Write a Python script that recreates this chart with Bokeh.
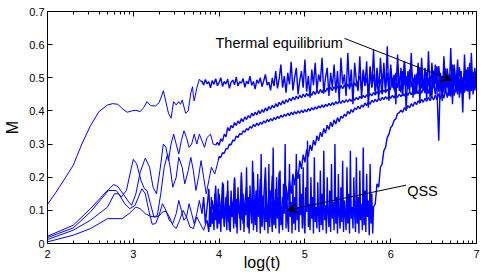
import numpy as np
from bokeh.plotting import figure
from bokeh.models import (Range1d, FixedTicker, LinearAxis, Label, Arrow, VeeHead,
                          CustomLabelingPolicy)
from bokeh.embed import file_html
from bokeh.resources import INLINE

# ---------------- data ----------------
x_ticks = [2, 3, 4, 5, 6, 7]
x_tick_labels = ["2", "3", "4", "5", "6", "7"]
y_ticks = [0, 0.1, 0.2, 0.3, 0.4, 0.5, 0.6, 0.7]
y_tick_labels = ["0", "0.1", "0.2", "0.3", "0.4", "0.5", "0.6", "0.7"]

STEP = 0.02
FINE_STEP = 0.01

# Series A : fastest to thermal equilibrium
a_smooth_x = [2.00, 2.10, 2.20, 2.30, 2.40, 2.50, 2.60, 2.70, 2.76, 2.82, 2.88, 2.93, 2.98, 3.03, 3.08,
              3.12, 3.16, 3.20, 3.26, 3.30, 3.33, 3.35, 3.375, 3.41, 3.44, 3.47, 3.50, 3.53, 3.55, 3.57,
              3.61, 3.64, 3.67, 3.69, 3.70, 3.71, 3.74, 3.77, 3.79]
a_smooth_y = [0.118, 0.155, 0.195, 0.236, 0.300, 0.355, 0.398, 0.418, 0.422, 0.420, 0.405, 0.396, 0.400,
              0.402, 0.398, 0.410, 0.428, 0.416, 0.415, 0.425, 0.445, 0.461, 0.433, 0.393, 0.378, 0.428,
              0.418, 0.428, 0.420, 0.433, 0.393, 0.400, 0.454, 0.473, 0.445, 0.430, 0.469, 0.496, 0.488]
a_noise_start = 3.80
a_noise_y = [
    0.490, 0.478, 0.495, 0.482, 0.488, 0.470, 0.492, 0.480, 0.497, 0.476,
    0.486, 0.500, 0.474, 0.489, 0.481, 0.496, 0.468, 0.487, 0.493, 0.479,
    0.502, 0.475, 0.488, 0.484, 0.498, 0.471, 0.490, 0.482, 0.505, 0.477,
    0.489, 0.466, 0.494, 0.483, 0.500, 0.473, 0.491, 0.510, 0.478, 0.487,
    0.462,
    0.500, 0.475, 0.520, 0.468, 0.497, 0.540, 0.470, 0.505, 0.455, 0.515,
    0.480, 0.548, 0.462, 0.500, 0.530, 0.450, 0.492, 0.520, 0.470, 0.555,
    0.458, 0.505, 0.440, 0.525, 0.478, 0.545, 0.460, 0.510, 0.488, 0.560,
    0.452, 0.500, 0.530, 0.445, 0.515,
    0.470, 0.540, 0.455, 0.520, 0.430, 0.560, 0.480, 0.510, 0.445, 0.575,
    0.465, 0.525, 0.420, 0.545, 0.490, 0.460, 0.565, 0.440, 0.515, 0.475,
    0.550, 0.410, 0.530, 0.470, 0.585, 0.450, 0.505, 0.435, 0.560, 0.480,
    0.525, 0.455, 0.595, 0.430, 0.540, 0.470, 0.510, 0.420, 0.570, 0.460,
    0.530, 0.445, 0.550, 0.400, 0.520, 0.480, 0.575, 0.440, 0.510, 0.465,
    0.545, 0.425, 0.560, 0.470, 0.500, 0.435, 0.580, 0.455, 0.525, 0.470,
    0.540, 0.460, 0.310, 0.515, 0.430, 0.565, 0.475, 0.505, 0.445, 0.590,
    0.420, 0.535, 0.470, 0.555, 0.440, 0.520, 0.395, 0.570, 0.460, 0.510,
    0.435, 0.575, 0.450, 0.530, 0.470]

# Series B : leaves the QSS near log(t)=3.9
b_smooth_x = [2.00, 2.30, 2.50, 2.71, 2.77, 2.82, 2.88, 2.94, 2.98, 3.03, 3.08, 3.14, 3.19, 3.23, 3.27,
              3.31, 3.35, 3.38, 3.41, 3.44, 3.47, 3.50, 3.53, 3.56, 3.59, 3.62, 3.65, 3.68, 3.71, 3.74,
              3.77, 3.80, 3.83, 3.86, 3.90, 3.93, 3.96]
b_smooth_y = [0.022, 0.055, 0.105, 0.163, 0.178, 0.172, 0.150, 0.128, 0.115, 0.150, 0.215, 0.258, 0.230,
              0.170, 0.150, 0.220, 0.300, 0.290, 0.250, 0.300, 0.330, 0.300, 0.270, 0.310, 0.340, 0.320,
              0.290, 0.300, 0.330, 0.300, 0.330, 0.310, 0.290, 0.320, 0.330, 0.300, 0.297]
b_rise_start = 3.98
b_rise_y = [
    0.305, 0.296, 0.316, 0.308, 0.330, 0.322, 0.350, 0.340, 0.356, 0.349,
    0.365, 0.356, 0.370, 0.362, 0.377, 0.368, 0.382, 0.374, 0.386, 0.379,
    0.393, 0.385, 0.396, 0.388, 0.401, 0.392, 0.404, 0.396, 0.409, 0.400,
    0.413, 0.405, 0.417, 0.409, 0.422, 0.413, 0.426, 0.418, 0.431, 0.421,
    0.434, 0.426, 0.438, 0.430, 0.442, 0.433, 0.445, 0.436, 0.448, 0.439,
    0.451, 0.442, 0.453, 0.445, 0.456, 0.447, 0.459, 0.450, 0.462, 0.452,
    0.465, 0.455, 0.467, 0.457, 0.469, 0.459, 0.471, 0.461, 0.473, 0.463,
    0.475, 0.464, 0.477, 0.467, 0.479, 0.468, 0.481, 0.470, 0.483, 0.472,
    0.485, 0.474]
b_band_start = 5.64
b_band_y = [
    0.505, 0.465, 0.525, 0.478, 0.500, 0.455, 0.535, 0.472, 0.510, 0.460,
    0.530, 0.482, 0.495, 0.450, 0.545, 0.470, 0.515, 0.462, 0.528, 0.476,
    0.505, 0.445, 0.540, 0.480, 0.512, 0.466, 0.550, 0.474, 0.498, 0.458,
    0.525, 0.485, 0.505, 0.452, 0.538, 0.470, 0.515, 0.462, 0.530, 0.478,
    0.500, 0.440, 0.545, 0.472, 0.510, 0.465, 0.535, 0.480, 0.505, 0.455,
    0.528, 0.470, 0.512, 0.448, 0.540, 0.476, 0.508, 0.462, 0.532, 0.482,
    0.500, 0.458, 0.525, 0.470, 0.545, 0.465, 0.510, 0.478, 0.520]

# Series C2 : leaves the QSS near log(t)=4.0
c2_smooth_x = [2.00, 2.30, 2.50, 2.71, 2.80, 2.86, 2.92, 2.97, 3.00, 3.04, 3.09, 3.13, 3.16, 3.20, 3.24,
               3.28, 3.32, 3.36, 3.40, 3.43, 3.46, 3.50, 3.53, 3.57, 3.60, 3.64, 3.67, 3.70, 3.73, 3.76,
               3.79, 3.82, 3.85, 3.88, 3.91, 3.95, 3.99]
c2_smooth_y = [0.018, 0.047, 0.095, 0.160, 0.160, 0.140, 0.160, 0.220, 0.254, 0.240, 0.190, 0.165, 0.160,
               0.120, 0.080, 0.085, 0.150, 0.230, 0.270, 0.230, 0.170, 0.200, 0.260, 0.230, 0.180, 0.220,
               0.260, 0.220, 0.160, 0.200, 0.250, 0.200, 0.150, 0.190, 0.230, 0.210, 0.250]
c2_rise_start = 4.00
c2_rise_y = [
    0.262, 0.260, 0.274, 0.272, 0.286, 0.286, 0.300, 0.298, 0.312, 0.310,
    0.324, 0.320, 0.332, 0.328, 0.340, 0.336, 0.347, 0.342, 0.353, 0.348,
    0.359, 0.353, 0.363, 0.356, 0.366, 0.360, 0.370, 0.364, 0.374, 0.368,
    0.377, 0.370, 0.380, 0.374, 0.384, 0.377, 0.387, 0.381, 0.390, 0.384,
    0.393, 0.386, 0.396, 0.389, 0.398, 0.391, 0.400, 0.393, 0.402, 0.395,
    0.404, 0.397, 0.407, 0.400, 0.410, 0.403, 0.412, 0.406, 0.415, 0.409,
    0.418, 0.411, 0.420, 0.414, 0.423, 0.416, 0.425, 0.418, 0.428, 0.421,
    0.430, 0.423, 0.432, 0.425, 0.434, 0.427, 0.436, 0.429, 0.439, 0.432,
    0.441, 0.434, 0.444, 0.437, 0.447, 0.440, 0.449, 0.443, 0.452, 0.446,
    0.455, 0.448, 0.458, 0.451, 0.461, 0.454, 0.463, 0.456, 0.465, 0.458,
    0.468]
c2_band_start = 6.02
c2_band_y = [
    0.500, 0.462, 0.515, 0.470, 0.492, 0.455, 0.520, 0.478, 0.505, 0.465,
    0.525, 0.472, 0.498, 0.450, 0.512, 0.480, 0.530, 0.468, 0.495, 0.458,
    0.518, 0.475, 0.505, 0.445, 0.522, 0.482, 0.535, 0.470, 0.500, 0.460,
    0.515, 0.478, 0.528, 0.452, 0.508, 0.485, 0.540, 0.466, 0.498, 0.470,
    0.520, 0.455, 0.510, 0.480, 0.532, 0.462, 0.505, 0.475, 0.515, 0.470]

# Series C : leaves the QSS near log(t)=4.75
c_smooth_x = [2.00, 2.30, 2.50, 2.70, 2.78, 2.83, 2.90, 2.96, 3.02, 3.06, 3.10, 3.14, 3.18, 3.22, 3.26,
              3.30, 3.34, 3.38, 3.42, 3.46, 3.50, 3.53, 3.56, 3.59, 3.62, 3.65, 3.68, 3.71, 3.74, 3.77,
              3.80]
c_smooth_y = [0.012, 0.040, 0.070, 0.110, 0.150, 0.150, 0.120, 0.105, 0.115, 0.140, 0.165, 0.150, 0.100,
              0.058, 0.060, 0.085, 0.120, 0.100, 0.070, 0.060, 0.090, 0.130, 0.100, 0.070, 0.080, 0.120,
              0.090, 0.060, 0.090, 0.130, 0.090]
c_qss_start = 3.82
c_qss_y = [
    0.140, 0.060, 0.110, 0.165, 0.050, 0.130, 0.090, 0.175, 0.045, 0.150,
    0.080, 0.185, 0.055, 0.120, 0.160, 0.040, 0.140, 0.095, 0.195, 0.050,
    0.150, 0.075, 0.205, 0.060, 0.125, 0.170, 0.045, 0.150, 0.090, 0.215,
    0.055, 0.160, 0.080, 0.195, 0.050, 0.135, 0.230, 0.065, 0.150, 0.100,
    0.205, 0.055, 0.165, 0.085, 0.215, 0.070, 0.140]
c_rise_start = 4.76
c_rise_y = [
    0.120, 0.175, 0.130, 0.190, 0.150, 0.210, 0.175, 0.225, 0.195, 0.250,
    0.225, 0.268, 0.245, 0.283, 0.262, 0.297, 0.280, 0.312, 0.296, 0.325,
    0.310, 0.336, 0.322, 0.347, 0.333, 0.357, 0.344, 0.366, 0.352, 0.373,
    0.360, 0.380, 0.367]
c_late_start = 5.42
c_late_y = [
    0.384, 0.378, 0.390, 0.384, 0.399, 0.391, 0.404, 0.396, 0.409, 0.404,
    0.414, 0.406, 0.418, 0.411, 0.424, 0.416, 0.428, 0.420, 0.432, 0.426,
    0.435, 0.428, 0.438, 0.431, 0.441, 0.434, 0.443, 0.436, 0.445, 0.438,
    0.447, 0.439, 0.449, 0.441, 0.451, 0.443, 0.453, 0.445, 0.456, 0.447,
    0.458, 0.449, 0.461, 0.451, 0.464, 0.452, 0.467, 0.453, 0.470, 0.454,
    0.475, 0.452, 0.480, 0.455, 0.488, 0.450, 0.495, 0.458, 0.500, 0.452,
    0.505, 0.460, 0.498, 0.448, 0.510, 0.462, 0.502, 0.455, 0.515, 0.465,
    0.505, 0.450, 0.520, 0.468, 0.508, 0.458, 0.525, 0.470, 0.512, 0.462]

# Series D : stays in the QSS until log(t)=5.8 (QSS sampled every 0.01)
d_smooth_x = [2.00, 2.30, 2.50, 2.70, 2.87, 2.95, 3.03, 3.08, 3.14, 3.20, 3.26, 3.30, 3.34, 3.38, 3.42,
              3.46, 3.50, 3.54, 3.58, 3.62, 3.66, 3.70, 3.74, 3.78, 3.82, 3.86]
d_smooth_y = [0.005, 0.025, 0.045, 0.075, 0.075, 0.090, 0.110, 0.105, 0.090, 0.082, 0.080, 0.083, 0.095,
              0.098, 0.080, 0.055, 0.045, 0.070, 0.100, 0.080, 0.050, 0.045, 0.080, 0.060, 0.040, 0.070]
d_qss_start = 3.88
d_qss_y = [
    0.035, 0.110, 0.050, 0.140, 0.060, 0.095, 0.040, 0.150, 0.070, 0.120,
    0.045, 0.165, 0.060, 0.105, 0.035, 0.130, 0.075, 0.180, 0.050, 0.100,
    0.140, 0.040, 0.190, 0.065, 0.115, 0.035, 0.160, 0.080, 0.125, 0.045,
    0.200, 0.060, 0.135, 0.030, 0.170, 0.090, 0.110, 0.040, 0.215, 0.070,
    0.150, 0.035, 0.120, 0.085, 0.230, 0.050, 0.140, 0.030, 0.175, 0.095,
    0.060, 0.250, 0.040, 0.130, 0.070, 0.160, 0.035, 0.210, 0.085, 0.120,
    0.030, 0.270, 0.055, 0.145, 0.090, 0.040, 0.190, 0.065, 0.115, 0.030,
    0.240, 0.050, 0.160, 0.080, 0.035, 0.290, 0.060, 0.130, 0.045, 0.200,
    0.075, 0.140, 0.030, 0.220, 0.055, 0.110, 0.040, 0.180, 0.090, 0.300,
    0.045, 0.150, 0.065, 0.035, 0.240, 0.080, 0.125, 0.030, 0.190, 0.060,
    0.140, 0.040, 0.270, 0.070, 0.110, 0.035, 0.210, 0.085, 0.150, 0.045,
    0.230, 0.060, 0.030, 0.170, 0.095, 0.310, 0.050, 0.120, 0.040, 0.200,
    0.075, 0.140, 0.030, 0.260, 0.065, 0.110, 0.045, 0.185, 0.080, 0.035,
    0.220, 0.055, 0.150, 0.040, 0.280, 0.070, 0.115, 0.030, 0.200, 0.090,
    0.050, 0.160, 0.035, 0.240, 0.075, 0.125, 0.040, 0.300, 0.060, 0.140,
    0.030, 0.210, 0.085, 0.045, 0.170, 0.065, 0.250, 0.035, 0.130, 0.090,
    0.040, 0.230, 0.060, 0.150, 0.030, 0.280, 0.075, 0.110, 0.045, 0.200,
    0.085, 0.035, 0.260, 0.060, 0.140, 0.030, 0.220, 0.070, 0.120, 0.040,
    0.290, 0.055, 0.160, 0.035, 0.210, 0.080, 0.130, 0.025, 0.240, 0.060,
    0.150, 0.030, 0.110]
d_rise_start = 5.82
d_rise_y = [0.120, 0.180, 0.170, 0.230, 0.240, 0.280, 0.290, 0.320, 0.330, 0.350, 0.356, 0.372, 0.376,
            0.392, 0.395]
d_late_start = 6.12
d_late_y = [
    0.402, 0.396, 0.410, 0.403, 0.416, 0.409, 0.422, 0.414, 0.427, 0.419,
    0.431, 0.423, 0.435, 0.426, 0.438, 0.429, 0.441, 0.431, 0.444, 0.433,
    0.447, 0.434, 0.452, 0.436, 0.458, 0.438, 0.465, 0.440, 0.472, 0.443,
    0.480, 0.446, 0.488, 0.450, 0.495, 0.452, 0.500, 0.455, 0.508, 0.458,
    0.512, 0.460, 0.518, 0.462, 0.505]

# annotations
thermal_text = "Thermal equilibrium"
thermal_text_pos = (3.958, 0.6036)
thermal_arrow = (5.46, 0.619, 6.705, 0.493)
qss_text = "QSS"
qss_text_pos = (6.192, 0.158)
qss_arrow = (6.18, 0.176, 4.794, 0.1006)


def regular(start, step, vals):
    return list(start + step * np.arange(len(vals))), list(vals)


FONT = "Liberation Sans"
BLUE = "#0000ff"

p = figure(width=484, height=277, output_backend="svg", toolbar_location=None,
           x_range=Range1d(2, 7), y_range=Range1d(0, 0.7),
           min_border_left=47, min_border_right=8, min_border_top=11, min_border_bottom=34,
           x_axis_label="log(t)", y_axis_label="M")
p.xgrid.visible = False
p.ygrid.visible = False
p.outline_line_color = "black"
p.outline_line_alpha = 1.0
p.background_fill_color = "white"
p.border_fill_color = "white"

# smooth (early) parts, thin lines
for sx, sy in [(a_smooth_x, a_smooth_y), (b_smooth_x, b_smooth_y), (c2_smooth_x, c2_smooth_y),
               (c_smooth_x, c_smooth_y), (d_smooth_x, d_smooth_y)]:
    p.line(sx, sy, line_color=BLUE, line_width=1)

# noisy parts, each joined to the end of the previous part
chains = [
    ((a_smooth_x, a_smooth_y), [(a_noise_start, STEP, a_noise_y)]),
    ((b_smooth_x, b_smooth_y), [(b_rise_start, STEP, b_rise_y), (b_band_start, STEP, b_band_y)]),
    ((c2_smooth_x, c2_smooth_y), [(c2_rise_start, STEP, c2_rise_y), (c2_band_start, STEP, c2_band_y)]),
    ((c_smooth_x, c_smooth_y), [(c_qss_start, STEP, c_qss_y), (c_rise_start, STEP, c_rise_y),
                                (c_late_start, STEP, c_late_y)]),
    ((d_smooth_x, d_smooth_y), [(d_qss_start, FINE_STEP, d_qss_y), (d_rise_start, STEP, d_rise_y),
                                (d_late_start, STEP, d_late_y)]),
]
for (sx, sy), parts in chains:
    xs = [sx[-1]]
    ys = [sy[-1]]
    for start, step, vals in parts:
        px, py = regular(start, step, vals)
        xs += px
        ys += py
    p.line(xs, ys, line_color=BLUE, line_width=1.4)

x_minor = [d + np.log10(k) for d in range(2, 7) for k in range(2, 10)]

hide_all = CustomLabelingPolicy(code="""
const ids = [...indices];
for (const i of ids) indices.unset(i);
return indices;
""")


def style_axis(ax, ticks, labels, minor, show_labels):
    ax.ticker = FixedTicker(ticks=ticks, minor_ticks=minor)
    ax.major_label_overrides = {t: l for t, l in zip(ticks, labels)}
    ax.major_tick_in = 5
    ax.major_tick_out = 0
    ax.minor_tick_in = 3
    ax.minor_tick_out = 0
    ax.axis_line_color = "black"
    ax.major_tick_line_color = "black"
    ax.minor_tick_line_color = "black"
    ax.major_label_text_font = FONT
    ax.major_label_text_color = "black"
    if show_labels:
        ax.major_label_text_font_size = "11px"
    else:
        ax.major_label_text_font_size = "1px"
        ax.major_label_standoff = 0
        ax.major_label_policy = hide_all
    ax.axis_label_text_font = FONT
    ax.axis_label_text_font_style = "normal"
    ax.axis_label_text_font_size = "16px"
    ax.axis_label_text_color = "black"


style_axis(p.xaxis[0], x_ticks, x_tick_labels, x_minor, True)
p.xaxis[0].major_label_standoff = 6
p.xaxis[0].axis_label_standoff = -7
style_axis(p.yaxis[0], y_ticks, y_tick_labels, [], True)
p.yaxis[0].major_label_standoff = 3
p.yaxis[0].axis_label_standoff = 5

top = LinearAxis()
style_axis(top, x_ticks, x_tick_labels, x_minor, False)
p.add_layout(top, "above")
right = LinearAxis()
style_axis(right, y_ticks, y_tick_labels, [], False)
p.add_layout(right, "right")

p.add_layout(Label(x=thermal_text_pos[0], y=thermal_text_pos[1], text=thermal_text,
                   text_font=FONT, text_font_size="14.5px", text_color="black",
                   text_baseline="alphabetic"))
p.add_layout(Label(x=qss_text_pos[0], y=qss_text_pos[1], text=qss_text,
                   text_font=FONT, text_font_size="14.5px", text_color="black",
                   text_baseline="alphabetic"))
for (x0, y0, x1, y1) in (thermal_arrow, qss_arrow):
    p.add_layout(Arrow(end=VeeHead(size=10, fill_color="black", line_color="black"),
                       x_start=x0, y_start=y0, x_end=x1, y_end=y1,
                       line_color="black", line_width=1))

open("out.html", "w").write(file_html(p, INLINE))
